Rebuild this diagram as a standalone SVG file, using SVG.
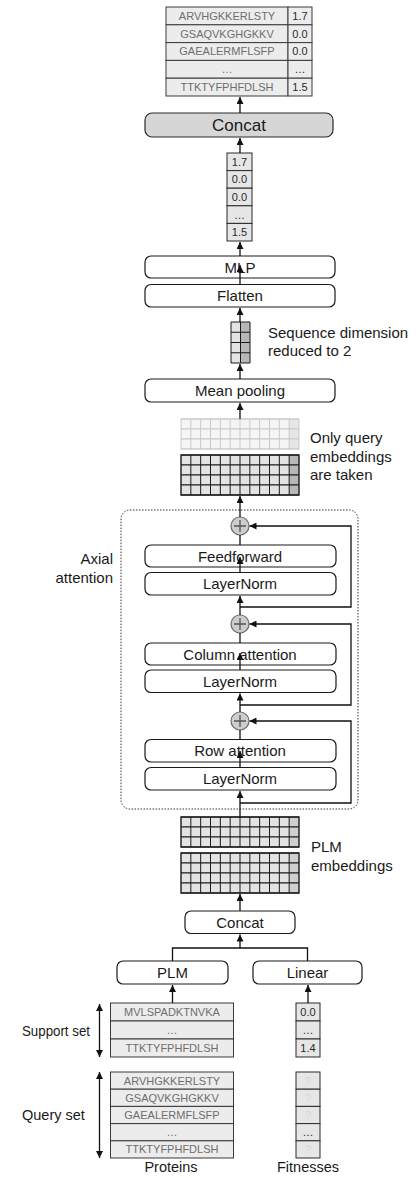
<svg xmlns="http://www.w3.org/2000/svg" xmlns:xlink="http://www.w3.org/1999/xlink" width="418" height="1178" viewBox="0 0 418 1178">
<style>
text { font-family: "Liberation Sans", Arial, sans-serif; }
.lbl { font-size: 15px; fill: #1a1a1a; }
.blbl { font-size: 15px; fill: #1a1a1a; text-anchor: middle; }
.box { fill: #ffffff; stroke: #1a1a1a; stroke-width: 1.2; }
.cell { fill: #ececec; stroke: #3a3a3a; stroke-width: 1; }
.fcell { fill: #e6e6e6; stroke: #2a2a2a; stroke-width: 1; }
.seq { font-size: 11px; fill: #6e6e6e; text-anchor: middle; }
.val { font-size: 11px; fill: #2a2a2a; text-anchor: middle; }
.q { font-size: 11px; fill: #d6d6d6; text-anchor: middle; }
.conn { stroke: #111; stroke-width: 1.3; fill: none; }
.plus { fill: #cdcdcd; stroke: #6a6a6a; stroke-width: 1.2; }
.plusl { stroke: #555; stroke-width: 1.3; fill: none; }
</style>
<defs>
<marker id="ah" viewBox="0 0 10 10" refX="10" refY="5" markerWidth="7" markerHeight="7" markerUnits="userSpaceOnUse" orient="auto-start-reverse">
<path d="M0,0 L10,5 L0,10 z" fill="#111"/>
</marker>
<path id="vlines" d="M9.83,0V10 M19.67,0V10 M29.5,0V10 M39.33,0V10 M49.17,0V10 M59,0V10 M68.83,0V10 M78.67,0V10 M88.5,0V10 M98.33,0V10 M108.17,0V10"/>
<g id="rowDark">
<rect x="0" y="0" width="108.17" height="10" fill="#e3e3e3"/>
<rect x="108.17" y="0" width="9.83" height="10" fill="#b7b7b7"/>
<use xlink:href="#vlines" stroke="#1a1a1a" stroke-width="1"/>
<path d="M0,0H118M0,10H118" stroke="#1a1a1a" stroke-width="1"/>
</g>
<g id="rowPlm">
<rect x="0" y="0" width="108.17" height="10" fill="#e3e3e3"/>
<rect x="108.17" y="0" width="9.83" height="10" fill="#cfcfcf"/>
<use xlink:href="#vlines" stroke="#1a1a1a" stroke-width="1"/>
<path d="M0,0H118M0,10H118" stroke="#1a1a1a" stroke-width="1"/>
</g>
<g id="rowLight">
<rect x="0" y="0" width="108.17" height="10" fill="#f5f5f5"/>
<rect x="108.17" y="0" width="9.83" height="10" fill="#e6e6e6"/>
<use xlink:href="#vlines" stroke="#c9c9c9" stroke-width="1"/>
<path d="M0,0H118M0,10H118" stroke="#c9c9c9" stroke-width="1"/>
</g>
</defs>
<rect x="0" y="0" width="418" height="1178" fill="#ffffff"/>

<g id="output-table">
<rect class="cell" x="166" y="7" width="122" height="17.8"/>
<rect class="cell" x="166" y="24.8" width="122" height="17.8"/>
<rect class="cell" x="166" y="42.6" width="122" height="17.8"/>
<rect class="cell" x="166" y="60.4" width="122" height="17.8"/>
<rect class="cell" x="166" y="78.2" width="122" height="17.8"/>
<rect class="cell" x="288" y="7" width="24" height="17.8"/>
<rect class="cell" x="288" y="24.8" width="24" height="17.8"/>
<rect class="cell" x="288" y="42.6" width="24" height="17.8"/>
<rect class="cell" x="288" y="60.4" width="24" height="17.8"/>
<rect class="cell" x="288" y="78.2" width="24" height="17.8"/>
<text class="seq" x="227" y="19.8">ARVHGKKERLSTY</text>
<text class="seq" x="227" y="37.6">GSAQVKGHGKKV</text>
<text class="seq" x="227" y="55.4">GAEALERMFLSFP</text>
<text class="seq" x="227" y="73.2">…</text>
<text class="seq" x="227" y="91">TTKTYFPHFDLSH</text>
<text class="val" x="300" y="19.8">1.7</text>
<text class="val" x="300" y="37.6">0.0</text>
<text class="val" x="300" y="55.4">0.0</text>
<text class="val" x="300" y="73.2">…</text>
<text class="val" x="300" y="91">1.5</text>
</g>

<g id="concat-top">
<rect x="145" y="113" width="188" height="24" rx="7" fill="#d6d6d6" stroke="#2a2a2a" stroke-width="1.2"/>
<text class="blbl" x="239" y="131" style="font-size:17px">Concat</text>
</g>

<g id="pred-column">
<rect class="fcell" x="227" y="153" width="25" height="17.6"/>
<rect class="fcell" x="227" y="170.6" width="25" height="17.6"/>
<rect class="fcell" x="227" y="188.2" width="25" height="17.6"/>
<rect class="fcell" x="227" y="205.8" width="25" height="17.6"/>
<rect class="fcell" x="227" y="223.4" width="25" height="17.6"/>
<text class="val" x="239.5" y="165.7">1.7</text>
<text class="val" x="239.5" y="183.3">0.0</text>
<text class="val" x="239.5" y="200.9">0.0</text>
<text class="val" x="239.5" y="218.5">…</text>
<text class="val" x="239.5" y="236.1">1.5</text>
</g>

<g id="mlp">
<rect class="box" x="145" y="256" width="190" height="22" rx="6"/>
<text class="blbl" x="240" y="272.5">MLP</text>
</g>
<g id="flatten">
<rect class="box" x="145" y="284.5" width="190" height="22.5" rx="6"/>
<text class="blbl" x="240" y="301">Flatten</text>
</g>

<g id="reduced-grid">
<rect x="231" y="322" width="9.5" height="41" fill="#e3e3e3"/>
<rect x="240.5" y="322" width="9.5" height="41" fill="#b7b7b7"/>
<path d="M231,322H250V363H231Z M240.5,322V363 M231,332.25H250 M231,342.5H250 M231,352.75H250" fill="none" stroke="#1a1a1a" stroke-width="1"/>
<text class="lbl" x="268" y="338">Sequence dimension</text>
<text class="lbl" x="268" y="356">reduced to 2</text>
</g>

<g id="mean-pooling">
<rect class="box" x="145" y="379" width="190" height="23" rx="6"/>
<text class="blbl" x="240" y="396">Mean pooling</text>
</g>

<g id="query-embeddings">
<use xlink:href="#rowLight" x="181" y="419"/>
<use xlink:href="#rowLight" x="181" y="429"/>
<use xlink:href="#rowLight" x="181" y="439"/>
<rect x="181" y="419" width="118" height="30" fill="none" stroke="#c9c9c9" stroke-width="1"/>
<use xlink:href="#rowDark" x="181" y="455"/>
<use xlink:href="#rowDark" x="181" y="465"/>
<use xlink:href="#rowDark" x="181" y="475"/>
<use xlink:href="#rowDark" x="181" y="485"/>
<rect x="181" y="455" width="118" height="40" fill="none" stroke="#1a1a1a" stroke-width="1.4"/>
<text class="lbl" x="310" y="443">Only query</text>
<text class="lbl" x="310" y="461.5">embeddings</text>
<text class="lbl" x="310" y="480">are taken</text>
</g>

<g id="axial-attention">
<rect x="121" y="510" width="237" height="299" rx="9" fill="none" stroke="#333" stroke-width="1" stroke-dasharray="1.5 1.5"/>
<text class="lbl" x="113" y="564" text-anchor="end">Axial</text>
<text class="lbl" x="113" y="583" text-anchor="end">attention</text>
</g>

<g id="feedforward">
<rect class="box" x="145" y="545" width="191" height="22" rx="6"/>
<text class="blbl" x="240" y="561.5">Feedforward</text>
</g>
<g id="layernorm-1">
<rect class="box" x="145" y="572.5" width="191" height="22.5" rx="6"/>
<text class="blbl" x="240" y="589">LayerNorm</text>
</g>
<g id="column-attention">
<rect class="box" x="145" y="643" width="191" height="22" rx="6"/>
<text class="blbl" x="240" y="659.5">Column attention</text>
</g>
<g id="layernorm-2">
<rect class="box" x="145" y="670" width="191" height="22.5" rx="6"/>
<text class="blbl" x="240" y="686.5">LayerNorm</text>
</g>
<g id="row-attention">
<rect class="box" x="145" y="739.5" width="191" height="22.5" rx="6"/>
<text class="blbl" x="240" y="756">Row attention</text>
</g>
<g id="layernorm-3">
<rect class="box" x="145" y="767.5" width="191" height="22.5" rx="6"/>
<text class="blbl" x="240" y="784">LayerNorm</text>
</g>

<g id="plm-embeddings">
<use xlink:href="#rowPlm" x="181" y="817"/>
<use xlink:href="#rowPlm" x="181" y="827"/>
<use xlink:href="#rowPlm" x="181" y="837"/>
<rect x="181" y="817" width="118" height="30" fill="none" stroke="#1a1a1a" stroke-width="1.4"/>
<use xlink:href="#rowPlm" x="181" y="853"/>
<use xlink:href="#rowPlm" x="181" y="863"/>
<use xlink:href="#rowPlm" x="181" y="873"/>
<use xlink:href="#rowPlm" x="181" y="883"/>
<rect x="181" y="853" width="118" height="40" fill="none" stroke="#1a1a1a" stroke-width="1.4"/>
<text class="lbl" x="311" y="852">PLM</text>
<text class="lbl" x="311" y="871">embeddings</text>
</g>

<g id="concat-bottom">
<rect class="box" x="185" y="911" width="110" height="22.5" rx="6"/>
<text class="blbl" x="240" y="927.5">Concat</text>
</g>
<g id="plm">
<rect class="box" x="117" y="961" width="111" height="23" rx="6"/>
<text class="blbl" x="172.5" y="978">PLM</text>
</g>
<g id="linear">
<rect class="box" x="253" y="961" width="109" height="23" rx="6"/>
<text class="blbl" x="307.5" y="978">Linear</text>
</g>

<g id="support-proteins">
<rect class="cell" x="110.5" y="1003" width="123" height="18"/>
<rect class="cell" x="110.5" y="1021" width="123" height="18"/>
<rect class="cell" x="110.5" y="1039" width="123" height="18"/>
<text class="seq" x="172" y="1016">MVLSPADKTNVKA</text>
<text class="seq" x="172" y="1034">…</text>
<text class="seq" x="172" y="1052">TTKTYFPHFDLSH</text>
</g>
<g id="support-fitnesses">
<rect class="fcell" x="296" y="1003" width="24" height="18"/>
<rect class="fcell" x="296" y="1021" width="24" height="18"/>
<rect class="fcell" x="296" y="1039" width="24" height="18"/>
<text class="val" x="308" y="1016">0.0</text>
<text class="val" x="308" y="1034">…</text>
<text class="val" x="308" y="1052">1.4</text>
</g>
<g id="query-proteins">
<rect class="cell" x="110.5" y="1072" width="123" height="17.2"/>
<rect class="cell" x="110.5" y="1089.2" width="123" height="17.2"/>
<rect class="cell" x="110.5" y="1106.4" width="123" height="17.2"/>
<rect class="cell" x="110.5" y="1123.6" width="123" height="17.2"/>
<rect class="cell" x="110.5" y="1140.8" width="123" height="17.2"/>
<text class="seq" x="172" y="1084.5">ARVHGKKERLSTY</text>
<text class="seq" x="172" y="1101.7">GSAQVKGHGKKV</text>
<text class="seq" x="172" y="1118.9">GAEALERMFLSFP</text>
<text class="seq" x="172" y="1136.1">…</text>
<text class="seq" x="172" y="1153.3">TTKTYFPHFDLSH</text>
</g>
<g id="query-fitnesses">
<rect class="fcell" x="296" y="1072" width="24" height="17.2"/>
<rect class="fcell" x="296" y="1089.2" width="24" height="17.2"/>
<rect class="fcell" x="296" y="1106.4" width="24" height="17.2"/>
<rect class="fcell" x="296" y="1123.6" width="24" height="17.2"/>
<rect class="fcell" x="296" y="1140.8" width="24" height="17.2"/>
<text class="q" x="308" y="1084.5">?</text>
<text class="q" x="308" y="1101.7">?</text>
<text class="q" x="308" y="1118.9">?</text>
<text class="val" x="308" y="1136.1">…</text>
<text class="q" x="308" y="1153.3">?</text>
</g>

<g id="set-labels">
<text class="lbl" x="22" y="1036" style="font-size:14.5px" textLength="68" lengthAdjust="spacingAndGlyphs">Support set</text>
<text class="lbl" x="22" y="1120" style="font-size:14.5px">Query set</text>
<text class="blbl" x="171" y="1172" style="font-size:14.5px">Proteins</text>
<text class="blbl" x="308" y="1172" style="font-size:14.5px">Fitnesses</text>
</g>

<g id="plus-nodes">
<circle class="plus" cx="240" cy="526" r="9"/>
<path class="plusl" d="M234,526H246M240,520V532"/>
<circle class="plus" cx="240" cy="624" r="9"/>
<path class="plusl" d="M234,624H246M240,618V630"/>
<circle class="plus" cx="240" cy="721" r="9"/>
<path class="plusl" d="M234,721H246M240,715V727"/>
</g>

<g id="connectors">
<line class="conn" x1="240" y1="113" x2="240" y2="97" marker-end="url(#ah)"/>
<line class="conn" x1="240" y1="153" x2="240" y2="138" marker-end="url(#ah)"/>
<line class="conn" x1="240" y1="256" x2="240" y2="242" marker-end="url(#ah)"/>
<line class="conn" x1="240" y1="284.5" x2="240" y2="265" marker-end="url(#ah)"/>
<line class="conn" x1="240" y1="322" x2="240" y2="308" marker-end="url(#ah)"/>
<line class="conn" x1="240" y1="379" x2="240" y2="364" marker-end="url(#ah)"/>
<line class="conn" x1="240" y1="419" x2="240" y2="403" marker-end="url(#ah)"/>
<line class="conn" x1="240" y1="517" x2="240" y2="496" marker-end="url(#ah)"/>
<line class="conn" x1="240" y1="535" x2="240" y2="545"/>
<line class="conn" x1="240" y1="572.5" x2="240" y2="557" marker-end="url(#ah)"/>
<line class="conn" x1="240" y1="615" x2="240" y2="596" marker-end="url(#ah)"/>
<line class="conn" x1="240" y1="633" x2="240" y2="643"/>
<line class="conn" x1="240" y1="670" x2="240" y2="653" marker-end="url(#ah)"/>
<line class="conn" x1="240" y1="712" x2="240" y2="693.5" marker-end="url(#ah)"/>
<line class="conn" x1="240" y1="730" x2="240" y2="739.5"/>
<line class="conn" x1="240" y1="767.5" x2="240" y2="751" marker-end="url(#ah)"/>
<line class="conn" x1="240" y1="817" x2="240" y2="791" marker-end="url(#ah)"/>
<polyline class="conn" points="240,607 351,607 351,526 249.5,526" marker-end="url(#ah)"/>
<polyline class="conn" points="240,705 351,705 351,624 249.5,624" marker-end="url(#ah)"/>
<polyline class="conn" points="240,803 351,803 351,721 249.5,721" marker-end="url(#ah)"/>
<line class="conn" x1="240" y1="911" x2="240" y2="894" marker-end="url(#ah)"/>
<line class="conn" x1="240" y1="948" x2="240" y2="934.5" marker-end="url(#ah)"/>
<polyline class="conn" points="172.5,961 172.5,948 307.5,948 307.5,961"/>
<line class="conn" x1="172.5" y1="1003" x2="172.5" y2="985" marker-end="url(#ah)"/>
<line class="conn" x1="308" y1="1003" x2="308" y2="985" marker-end="url(#ah)"/>
<line class="conn" x1="99.5" y1="1004" x2="99.5" y2="1057" marker-start="url(#ah)" marker-end="url(#ah)"/>
<line class="conn" x1="99.5" y1="1072" x2="99.5" y2="1158" marker-start="url(#ah)" marker-end="url(#ah)"/>
</g>
</svg>
